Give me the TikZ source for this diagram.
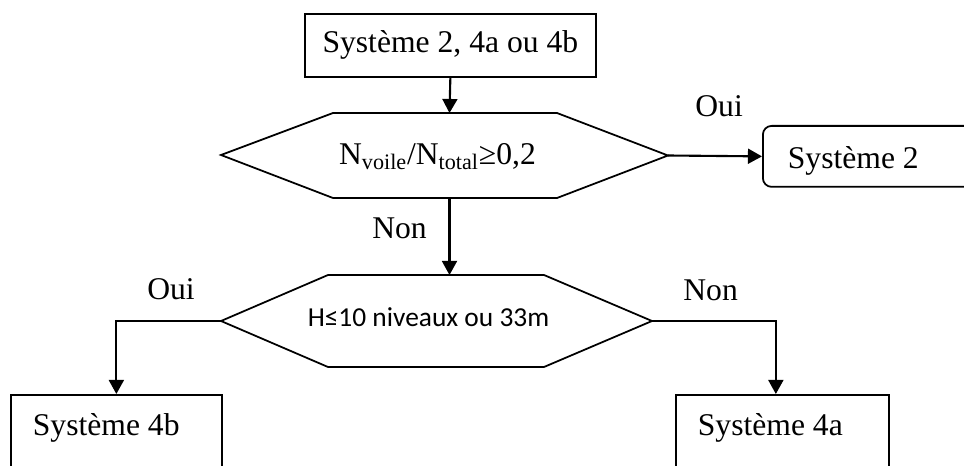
\documentclass[tikz,border=0pt]{standalone}
\usepackage{fontspec}
\setmainfont{Liberation Serif}
\newfontfamily\calibrifont{Carlito}
\usetikzlibrary{arrows.meta, positioning, calc}

\begin{document}
\begin{tikzpicture}[
  x=0.02cm, y=-0.02cm,
  font=\fontsize{18}{22}\selectfont,
  box/.style={rectangle, draw=black, line width=1pt, anchor=north west, inner ysep=0pt, align=flush left},
  choix/.style={draw=black, line width=1pt},
  lbl/.style={anchor=base west, inner sep=0pt},
  arr/.style={-{Triangle[length=8pt, width=8.5pt]}, line width=1.2pt}
]
\clip (0,0) rectangle (964,466);

% boites
\node[box, inner xsep=0pt, minimum width=5.82cm, text height=0.78cm, text depth=0.48cm] (depart) at (304,13) {Système 2, 4a ou 4b};
\node[box, rounded corners=5pt, inner xsep=0.5cm, text width=4.2cm, text height=0.86cm, text depth=0.36cm] (sys2) at (762,125) {Système 2};
\node[box, inner xsep=0.44cm, text width=3.34cm, text height=0.82cm, text depth=1.6cm] (sys4b) at (10,394) {Système 4b};
\node[box, inner xsep=0.44cm, text width=3.38cm, text height=0.82cm, text depth=1.6cm] (sys4a) at (675,394) {Système 4a};

% test 1
\node[inner sep=0pt, anchor=base] (test1) at (437.5,165) {N\textsubscript{voile}/N\textsubscript{total}≥0,2};
\coordinate (t1w) at (221,155);
\coordinate (t1nw) at (333,113);
\coordinate (t1n) at (449.5,113);
\coordinate (t1ne) at (557,113);
\coordinate (t1e) at (668,155.5);
\coordinate (t1se) at (557,198);
\coordinate (t1s) at (449.5,198);
\coordinate (t1sw) at (333,198);
\draw[choix] (t1w) -- (t1nw) -- (t1ne) -- (t1e) -- (t1se) -- (t1sw) -- cycle;

% test 2
\node[inner sep=0pt, anchor=base, font=\calibrifont\fontsize{15.6}{19}\selectfont] (test2) at (428.5,326) {H≤10 niveaux ou 33m};
\coordinate (t2w) at (221,321);
\coordinate (t2nw) at (328,275);
\coordinate (t2n) at (449.5,275);
\coordinate (t2ne) at (544,275);
\coordinate (t2e) at (652,321);
\coordinate (t2se) at (544,367);
\coordinate (t2sw) at (328,367);
\draw[choix] (t2w) -- (t2nw) -- (t2ne) -- (t2e) -- (t2se) -- (t2sw) -- cycle;

% etiquettes
\node[lbl] (oui1) at (695,117) {Oui};
\node[lbl] (non1) at (372,238) {Non};
\node[lbl] (oui2) at (147,299) {Oui};
\node[lbl] (non2) at (683,300) {Non};

% fleches
\draw[arr] (depart.south) -- (t1n);
\draw[arr] (t1e) -- (sys2.west);
\draw[arr] (t1s) -- (t2n);
\draw[arr] (t2w) -| (sys4b.north);
\draw[arr] (t2e) -| ([xshift=-0.13cm]sys4a.north);
\end{tikzpicture}
\end{document}
